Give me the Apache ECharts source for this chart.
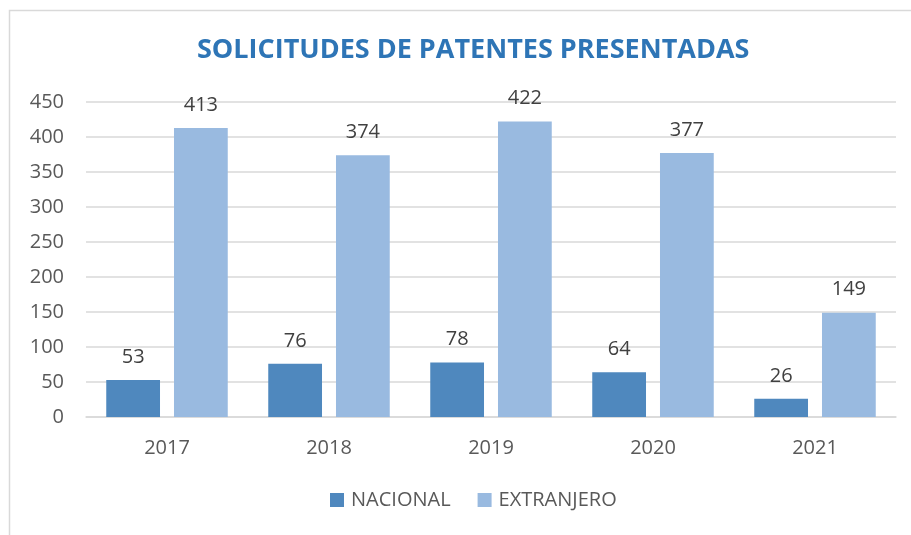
<!DOCTYPE html>
<html>
<head>
<meta charset="utf-8">
<script src="https://cdn.jsdelivr.net/npm/echarts@6/dist/echarts.min.js"></script>
<style>
html, body { margin: 0; padding: 0; background: #fff; }
#chart { width: 911px; height: 535px; }
</style>
</head>
<body>
<div id="chart"></div>
<script>
var years = ['2017', '2018', '2019', '2020', '2021'];
var nacional = [53, 76, 78, 64, 26];
var extranjero = [413, 374, 422, 377, 149];
var yTicks = { min: 0, max: 450, interval: 50 };

var chart = echarts.init(document.getElementById('chart'));
var font = 'Open Sans';

var labelStyle = {
	show: true,
	position: 'top',
	distance: 13,
	color: '#404040',
	fontSize: 20,
	fontFamily: font
};

chart.setOption({
	animation: false,
	title: {
		text: 'SOLICITUDES DE PATENTES PRESENTADAS',
		left: 192,
		top: 32,
		textStyle: {
			color: '#2E75B6',
			fontSize: 27,
			fontWeight: 'bold',
			fontFamily: font
		}
	},
	graphic: [{
		type: 'rect',
		shape: { x: 9.5, y: 10.5, width: 1000, height: 1000 },
		style: { fill: 'none', stroke: '#D9D9D9', lineWidth: 1.5 },
		silent: true
	}],
	grid: { left: 86, right: 15, top: 102, bottom: 118 },
	legend: {
		bottom: 20,
		left: 325,
		itemWidth: 14,
		itemHeight: 14,
		itemGap: 27,
		icon: 'rect',
		textStyle: { color: '#595959', fontSize: 20, fontFamily: font, padding: [0, 0, 0, 2] }
	},
	xAxis: {
		type: 'category',
		data: years,
		axisLine: { lineStyle: { color: '#D9D9D9', width: 1.5 } },
		axisTick: { show: false },
		axisLabel: { color: '#595959', fontSize: 20, fontFamily: font, margin: 21 }
	},
	yAxis: {
		type: 'value',
		min: yTicks.min,
		max: yTicks.max,
		interval: yTicks.interval,
		axisLine: { show: false },
		axisTick: { show: false },
		splitLine: { lineStyle: { color: '#D9D9D9', width: 1.5 } },
		axisLabel: { color: '#595959', fontSize: 20, fontFamily: font, margin: 22 }
	},
	series: [{
		name: 'NACIONAL',
		type: 'bar',
		data: nacional,
		barGap: '26%',
		barCategoryGap: '25%',
		itemStyle: { color: '#4F88BE' },
		label: labelStyle
	}, {
		name: 'EXTRANJERO',
		type: 'bar',
		data: extranjero,
		itemStyle: { color: '#99BAE0' },
		label: labelStyle
	}]
});
</script>
</body>
</html>
